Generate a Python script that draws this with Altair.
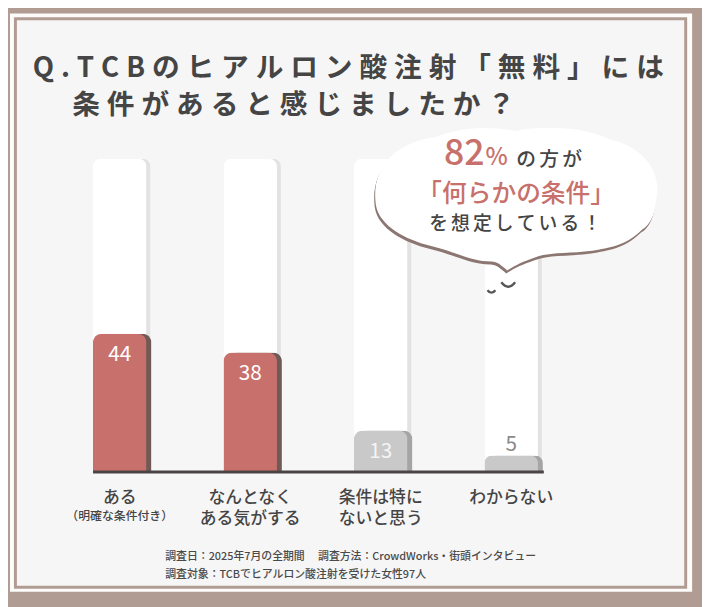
import altair as alt
import pandas as pd

# ---------------- data ----------------
categories = ["ある", "なんとなくある気がする", "条件は特にないと思う", "わからない"]
label_line1 = ["ある", "なんとなく", "条件は特に", "わからない"]
label_line2 = ["", "ある気がする", "ないと思う", ""]
sub_labels = ["（明確な条件付き）", "", "", ""]
values = [44, 38, 13, 5]

title_lines = ["Q.TCBのヒアルロン酸注射「無料」には", "条件があると感じましたか？"]
bubble_big = "82"
bubble_pct = "%"
bubble_tail = "の方が"
bubble_line2 = "「何らかの条件」"
bubble_line3 = "を想定している！"
notes = ["調査日：2025年7月の全期間　 調査方法：CrowdWorks・街頭インタビュー",
         "調査対象：TCBでヒアルロン酸注射を受けた女性97人"]

df = pd.DataFrame({"cat": categories, "l1": label_line1, "l2": label_line2,
                   "sub": sub_labels, "v": values})

# ---------------- styling ----------------
W, H = 702, 599
FONT = "Noto Sans CJK JP"
BROWN = "#b19c94"
RED = "#c8716c"
RED_SH = "#6f5a56"
GRAY = "#c9c9c9"
GRAY_SH = "#a5a5a5"
TXT = "#454545"


def spaced(s, ch="\u2005"):
    return ch.join(list(s))


dummy = alt.Data(values=[{"a": 1}])

xs = alt.X("cat:N", sort=categories, axis=None,
           scale=alt.Scale(range=[47, 575], paddingInner=0.59, paddingOuter=0.295))
ys = alt.Scale(domain=[0, 100], range=[465, 149])


def rect(x, x2, y, y2, color):
    return alt.Chart(dummy).mark_rect(color=color).encode(
        x=alt.value(x), x2=alt.value(x2), y=alt.value(y), y2=alt.value(y2))


def txt(s, x, y, size, color=TXT, weight=500, align="left", baseline="middle"):
    return alt.Chart(dummy).mark_text(
        text=s, font=FONT, fontSize=size, fontWeight=weight, color=color,
        align=align, baseline=baseline).encode(x=alt.value(x), y=alt.value(y))


frame = [
    rect(2, 692, 2, 587, "#fdfcfb"),
    rect(6, 687, 6, 584, BROWN),
    rect(9, 684, 9, 581, "#f7f6f6"),
]

base = alt.Chart(df)

track_sh = base.transform_calculate(full="100").mark_bar(
    color="#e2e2e2", xOffset=4, cornerRadiusTopLeft=8, cornerRadiusTopRight=8
).encode(x=xs, y=alt.Y("full:Q", scale=ys, axis=None))
track = base.transform_calculate(full="100").mark_bar(
    color="#ffffff", cornerRadiusTopLeft=8, cornerRadiusTopRight=8
).encode(x=xs, y=alt.Y("full:Q", scale=ys, axis=None))

bar_sh = base.mark_bar(xOffset=5, cornerRadiusTopLeft=9, cornerRadiusTopRight=9).encode(
    x=xs, y=alt.Y("v:Q", scale=ys, axis=None),
    color=alt.condition(alt.datum.v >= 20, alt.value(RED_SH), alt.value(GRAY_SH)))
bar = base.mark_bar(cornerRadiusTopLeft=9, cornerRadiusTopRight=9).encode(
    x=xs, y=alt.Y("v:Q", scale=ys, axis=None),
    color=alt.condition(alt.datum.v >= 20, alt.value(RED), alt.value(GRAY)))

baseline = alt.Chart(dummy).mark_rule(color="#4a4444", strokeWidth=3).encode(
    x=alt.value(86), x2=alt.value(542), y=alt.value(466))

val_in = base.transform_filter(alt.datum.v >= 10).mark_text(
    font=FONT, fontSize=21, fontWeight=400, baseline="middle", dy=22
).encode(x=xs, y=alt.Y("v:Q", scale=ys, axis=None), text="v:Q",
         color=alt.condition(alt.datum.v >= 20, alt.value("#ffffff"), alt.value("#f4f4f4")))
val_out = base.transform_filter(alt.datum.v < 10).mark_text(
    font=FONT, fontSize=21, fontWeight=400, baseline="middle", dy=-11, color="#8a8a8a"
).encode(x=xs, y=alt.Y("v:Q", scale=ys, axis=None), text="v:Q")

cat_lab1 = base.mark_text(font=FONT, fontSize=17, fontWeight=500, color=TXT,
                          baseline="middle").encode(x=xs, y=alt.value(492), text="l1:N")
cat_lab2 = base.transform_filter(alt.datum.l2 != "").mark_text(
    font=FONT, fontSize=17, fontWeight=500, color=TXT, baseline="middle"
).encode(x=xs, y=alt.value(514), text="l2:N")
sub_lab = base.transform_filter(alt.datum.sub != "").mark_text(
    font=FONT, fontSize=12, fontWeight=500, color=TXT, baseline="middle"
).encode(x=xs, y=alt.value(510), text="sub:N")

# speech bubble
bubble_path = ("M -141 8 C -146 -30 -120 -55 -80 -60 C -50 -72 -20 -70 0 -66 "
               "C 30 -72 70 -70 95 -58 C 130 -50 148 -25 143 2 C 141 22 135 30 128 34 "
               "C 112 50 95 52 78 55 C 55 58 35 56 20 62 C 8 66 0 70 -8 75 "
               "C -14 70 -18 66 -24 66 C -45 66 -60 56 -86 50 C -110 44 -138 30 -141 8 Z")
BX, BY = 512, 187
bubble_sh = alt.Chart(dummy).mark_point(shape=bubble_path, size=4, filled=True,
                                        fill="#8c7672", opacity=1, strokeWidth=0
                                        ).encode(x=alt.value(BX), y=alt.value(BY + 3))
bubble = alt.Chart(dummy).mark_point(shape=bubble_path, size=4, filled=True,
                                     fill="#ffffff", opacity=1, strokeWidth=0
                                     ).encode(x=alt.value(BX + 1), y=alt.value(BY))
eye1 = alt.Chart(dummy).mark_point(shape="M -4 -1 Q 0 4 4 -1", size=4, filled=False,
                                   stroke="#555555", strokeWidth=2.4, opacity=1
                                   ).encode(x=alt.value(489), y=alt.value(283))
eye2 = alt.Chart(dummy).mark_point(shape="M -7 -3 Q 0 6 7 -3", size=4, filled=False,
                                   stroke="#555555", strokeWidth=2.4, opacity=1
                                   ).encode(x=alt.value(506), y=alt.value(277))

texts = [
    txt(spaced(title_lines[0]), 25, 58, 28, weight=700),
    txt(spaced(title_lines[1]), 65, 96, 28, weight=700),
    txt(bubble_big, 482, 155, 36, color=RED, weight=500, align="right", baseline="alphabetic"),
    txt(bubble_pct, 483, 155, 24, color=RED, weight=500, baseline="alphabetic"),
    txt(spaced(bubble_tail, "\u2006"), 514, 150, 20, weight=500),
    txt(bubble_line2, 514, 185, 25, color=RED, weight=500, align="center"),
    txt(spaced(bubble_line3, "\u2006"), 513, 215, 19, weight=500, align="center"),
    txt(notes[0], 159, 552, 11, color="#4a4a4a", weight=500),
    txt(notes[1], 159, 570, 11, color="#4a4a4a", weight=500),
]

chart = alt.layer(
    *frame, track_sh, track, bar_sh, bar, baseline, val_in, val_out,
    cat_lab1, cat_lab2, sub_lab, bubble_sh, bubble, eye1, eye2, *texts
).properties(
    width=W, height=H, autosize=alt.AutoSizeParams(type="none"), padding=0,
    background=BROWN
).configure_view(stroke=None)

chart.save("out.html", embed_options={"renderer": "svg", "actions": False})
